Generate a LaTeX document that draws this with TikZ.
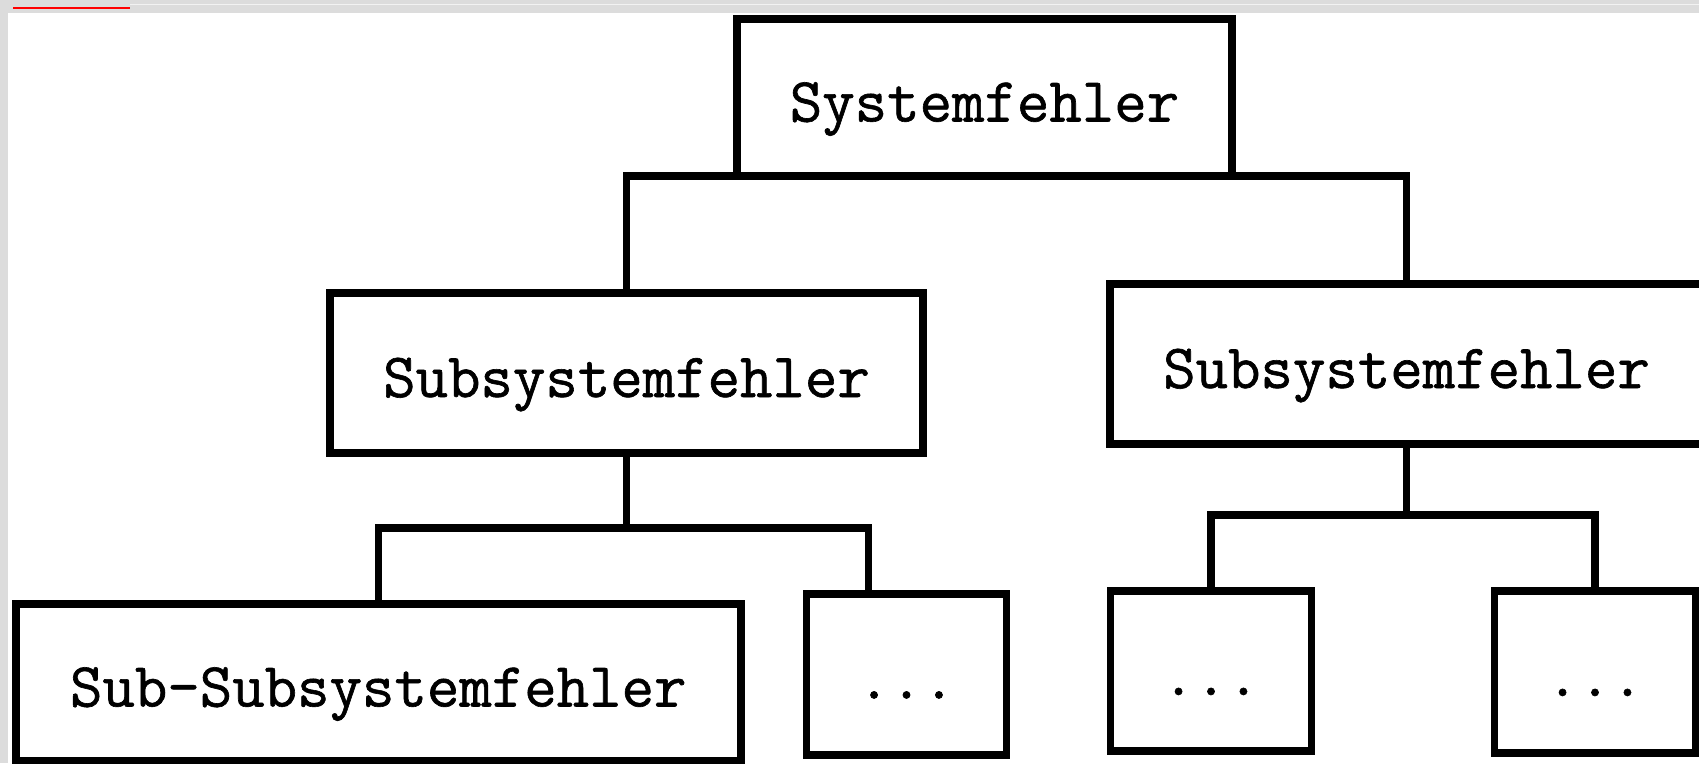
\documentclass[tikz,border=0pt]{standalone}
\usepackage{fontspec}
\newfontfamily\boxfont[FakeBold=1]{Latin Modern Mono}
\definecolor{bggrey}{HTML}{DCDCDC}
\definecolor{topline}{HTML}{F2F2F2}
\begin{document}
\begin{tikzpicture}[x=1pt,y=-1pt,
  box/.style={draw=black,line width=7.5pt,fill=white,inner sep=0pt,outer sep=0pt,
    font=\fontsize{63}{70}\selectfont\boxfont,text height=48pt,text depth=0pt,text=black},
  conn/.style={draw=black,line width=7.5pt}]
\useasboundingbox (0,0) rectangle (1699,763);
\clip (0,0) rectangle (1699,763);
\fill[bggrey] (0,0) rectangle (1699,763);
\fill[topline] (130,3.5) rectangle (1699,5);
\fill[white] (8,13) rectangle (1699,763);
\fill[red] (13,6.5) rectangle (130,9);
% boxes
\node[box,minimum width=495pt,minimum height=157pt] (sys) at (984.5,97.5) {Systemfehler};
\node[box,minimum width=593pt,minimum height=160pt] (subL) at (626.5,373) {Subsystemfehler};
\node[box,minimum width=593pt,minimum height=160pt] (subR) at (1406.5,364) {Subsystemfehler};
\node[box,minimum width=725pt,minimum height=157pt] (subsub) at (378.25,682.5) {Sub-Subsystemfehler};
\node[box,minimum width=200pt,minimum height=161pt] (d1) at (906.5,674.5) {...};
\node[box,minimum width=201pt,minimum height=160pt] (d2) at (1211,671) {...};
\node[box,minimum width=201pt,minimum height=162pt] (d3) at (1595,672) {...};
% junctions
\coordinate (j1) at (626.5,528);
\coordinate (j2) at (1406.5,515);
% connectors
\draw[conn] (subL.north) |- (sys.south) -| (subR.north);
\draw[conn] (subL.south) -- (j1);
\draw[conn] (subsub.north) |- (j1) -| ([xshift=-38pt]d1.north);
\draw[conn] (subR.south) -- (j2);
\draw[conn] (d2.north) |- (j2) -| (d3.north);
\end{tikzpicture}
\end{document}
